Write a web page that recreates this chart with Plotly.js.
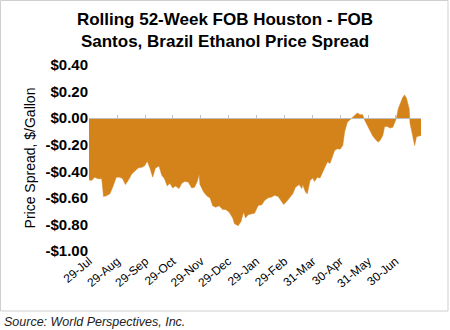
<!DOCTYPE html>
<html>
<head>
<meta charset="utf-8">
<script src="https://cdn.plot.ly/plotly-3.0.1.min.js"></script>
<style>html,body{margin:0;padding:0;background:#fff;}#chart{width:450px;height:330px;}</style>
</head>
<body>
<div id="chart"></div>
<script>
// Day offsets from the start date (29-Jul-2019) and spread values ($/gallon)
const startDate = '2019-07-29';
const dayOffsets = [0,3,6,10,14,16,19,23,26,30,34,37,40,43,47,50,54,58,61,64,67,70,73,77,80,83,86,89,92,95,99,102,105,109,113,116,119,121,122,126,130,133,136,139,143,147,150,154,158,160,164,167,170,172,175,179,182,186,190,193,197,201,204,208,212,214,217,221,224,227,231,234,235,238,240,243,246,248,251,254,257,259,262,265,268,270,273,276,279,281,284,287,290,292,295,298,301,302,305,309,312,316,318,320,323,325,328,331,334,336,338,340,342,345,347,349,352,353,355,356,358,360,362,365];
const spread = [-0.464,-0.47,-0.444,-0.456,-0.456,-0.59,-0.585,-0.57,-0.52,-0.444,-0.444,-0.456,-0.50,-0.47,-0.42,-0.40,-0.376,-0.37,-0.36,-0.325,-0.376,-0.444,-0.376,-0.36,-0.43,-0.456,-0.51,-0.49,-0.526,-0.51,-0.53,-0.49,-0.477,-0.48,-0.526,-0.52,-0.477,-0.424,-0.50,-0.556,-0.587,-0.60,-0.66,-0.67,-0.66,-0.687,-0.687,-0.707,-0.752,-0.795,-0.81,-0.78,-0.707,-0.752,-0.727,-0.72,-0.715,-0.657,-0.652,-0.62,-0.60,-0.594,-0.58,-0.59,-0.63,-0.65,-0.63,-0.594,-0.57,-0.52,-0.50,-0.53,-0.50,-0.556,-0.57,-0.47,-0.45,-0.477,-0.444,-0.45,-0.406,-0.376,-0.33,-0.34,-0.28,-0.243,-0.23,-0.234,-0.206,-0.105,-0.03,-0.01,0.008,0.02,0.038,0.026,0.026,0.0,-0.043,-0.093,-0.135,-0.168,-0.18,-0.168,-0.13,-0.063,-0.063,-0.075,-0.068,-0.035,0.0,0.07,0.108,0.158,0.175,0.15,0.07,-0.043,-0.105,-0.146,-0.206,-0.14,-0.135,-0.13];

const tickDates = ['2019-07-29','2019-08-29','2019-09-29','2019-10-29','2019-11-29','2019-12-29','2020-01-29','2020-02-29','2020-03-31','2020-04-30','2020-05-31','2020-06-30'];
const tickLabels = ['29-Jul','29-Aug','29-Sep','29-Oct','29-Nov','29-Dec','29-Jan','29-Feb','31-Mar','30-Apr','31-May','30-Jun'];
const yTickVals = [0.4,0.2,0,-0.2,-0.4,-0.6,-0.8,-1.0];
const yTickText = ['$0.40','$0.20','$0.00','-$0.20','-$0.40','-$0.60','-$0.80','-$1.00'];
const xRange = ['2019-07-29','2020-07-28'];

const t0 = Date.parse(startDate + 'T00:00:00Z');
const dates = dayOffsets.map(d => new Date(t0 + d * 86400000).toISOString().slice(0, 10));

const fillColor = '#D3831A';
const font = 'Arial, "Liberation Sans", sans-serif';

const traces = [
  {
    x: dates, y: spread, type: 'scatter', mode: 'lines',
    fill: 'tozeroy', fillcolor: fillColor,
    line: {color: fillColor, width: 0.5},
    hoverinfo: 'skip', showlegend: false
  },
  {
    x: [dates[0]], y: [0], xaxis: 'x2', type: 'scatter', mode: 'markers',
    marker: {opacity: 0}, hoverinfo: 'skip', showlegend: false
  }
];

const layout = {
  width: 450, height: 330,
  margin: {l: 89, r: 29, t: 65, b: 79},
  paper_bgcolor: '#ffffff', plot_bgcolor: '#ffffff',
  font: {family: font, color: '#000'},
  showlegend: false,
  title: {
    text: '<b>Rolling 52-Week FOB Houston - FOB<br>Santos, Brazil Ethanol Price Spread</b>',
    font: {family: font, size: 17, color: '#000'},
    x: 0.5, xanchor: 'center', xref: 'container',
    y: 0.925, yanchor: 'top', yref: 'container'
  },
  xaxis: {
    type: 'date', range: xRange,
    tickvals: tickDates, ticktext: tickLabels, tickangle: -40,
    tickfont: {family: font, size: 12, color: '#000'},
    showgrid: false, zeroline: false, showline: false, ticks: ''
  },
  xaxis2: {
    type: 'date', range: xRange, overlaying: 'x', anchor: 'free',
    position: 1 / 1.4, side: 'bottom',
    tickvals: tickDates, showticklabels: false,
    ticks: 'inside', ticklen: 3, tickcolor: '#bfbfbf', tickwidth: 1,
    showline: true, linecolor: '#bfbfbf', linewidth: 1,
    showgrid: false, zeroline: false
  },
  yaxis: {
    range: [-1.0, 0.4],
    tickvals: yTickVals, ticktext: yTickText,
    tickfont: {family: font, size: 15, color: '#000', weight: 'bold'},
    showgrid: false, zeroline: false, showline: false, ticks: '',
    title: {text: 'Price Spread, $/Gallon', font: {family: font, size: 14, color: '#000'}, standoff: 6}
  },
  shapes: [
    {type: 'rect', xref: 'paper', yref: 'paper',
     x0: (0.5 - 89) / 332, x1: (448 - 89) / 332,
     y0: (251 - 311) / 186, y1: (251 - 0.5) / 186,
     line: {color: '#cfcfcf', width: 1}, fillcolor: 'rgba(0,0,0,0)', layer: 'below'}
  ],
  annotations: [
    {text: '<i>Source: World Perspectives, Inc.</i>', xref: 'paper', yref: 'paper',
     x: (2 - 89) / 332, xanchor: 'left', y: (251 - 322) / 186, yanchor: 'middle',
     showarrow: false, font: {family: font, size: 12.5, color: '#222'}}
  ]
};

Plotly.newPlot('chart', traces, layout, {displayModeBar: false, staticPlot: true});
</script>
</body>
</html>
